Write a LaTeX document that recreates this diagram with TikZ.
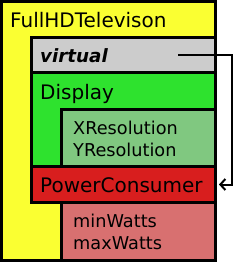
\documentclass[tikz,border=0pt]{standalone}
\usepackage{fontspec}
\setmainfont{DejaVu Sans}
\usepackage{tikz}
\usetikzlibrary{arrows.meta, positioning, calc}
\definecolor{tvyellow}{RGB}{250,255,50}
\definecolor{virtgray}{RGB}{204,204,204}
\definecolor{dispgreen}{RGB}{46,226,46}
\definecolor{resgreen}{RGB}{128,200,128}
\definecolor{powred}{RGB}{216,30,30}
\definecolor{wattpink}{RGB}{216,112,112}

\begin{document}
\begin{tikzpicture}[
    x=1pt, y=-1pt,
    box/.style={rectangle, draw, line width=3pt, inner sep=0pt, outer sep=0pt, anchor=north west},
    title/.style={anchor=base west, inner sep=0pt, font=\fontsize{20}{24}\selectfont},
    attrs/.style={anchor=base west, inner sep=0pt, align=left, font=\fontsize{17.7}{22}\selectfont},
    arrow/.style={-{Straight Barb[length=5pt, width=11pt]}, line width=2pt}
]
\useasboundingbox (0,0) rectangle (236,263);

% Outer class
\node[box, fill=tvyellow, minimum width=213.5pt, minimum height=258.5pt] (tv) at (1.5,1.5) {};
\node[title] (tvlabel) at (10,27) {FullHDTelevison};

% Virtual part
\node[box, fill=virtgray, minimum width=183.5pt, minimum height=34.5pt] (virtual) at (31.5,37.5) {};
\node[title, font=\fontsize{18.3}{22}\selectfont\bfseries\itshape] (virtlabel) at (40,62) {virtual};

% Display
\node[box, fill=dispgreen, minimum width=183.5pt, minimum height=94.5pt] (display) at (31.5,72) {};
\node[title] (displabel) at (40,99) {Display};
\node[box, fill=resgreen, minimum width=153.5pt, minimum height=57pt] (res) at (61.5,109.5) {};
\node[attrs] (reslabel) at (73,156) {XResolution\\YResolution};

% PowerConsumer
\node[box, fill=powred, minimum width=183.5pt, minimum height=36pt] (power) at (31.5,166.5) {};
\node[title] (powlabel) at (40,192) {PowerConsumer};
\node[box, fill=wattpink, minimum width=153.5pt, minimum height=57.5pt] (watts) at (61.5,202.5) {};
\node[attrs] (wattlabel) at (73,249) {minWatts\\maxWatts};

% Link
\coordinate (vstart) at (178,55);
\draw[arrow] (vstart) -- ++(54,0) |- ([xshift=4pt]power.east);

\end{tikzpicture}
\end{document}
